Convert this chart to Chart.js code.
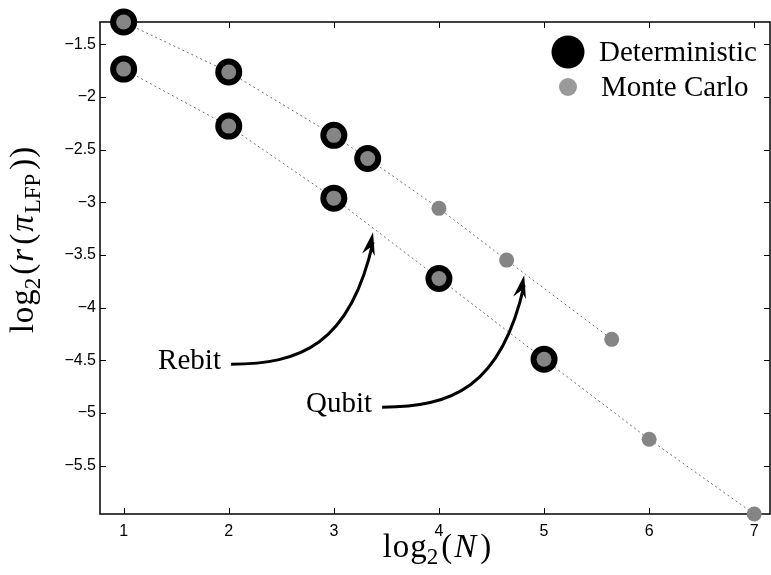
<!DOCTYPE html>
<html>
<head>
<meta charset="utf-8">
<script src="https://cdn.jsdelivr.net/npm/chart.js@4.4.0/dist/chart.umd.min.js"></script>
<style>
  body { margin: 0; background: #fff; }
  #wrap { width: 771px; height: 575px; position: relative; }
</style>
</head>
<body>
<div id="wrap"><canvas id="plot"></canvas></div>
<script>
// log2(N) against log2 of the LFP ratio, qubit and rebit families
const qubitN = [1, 2, 3, 3.322, 4, 4.644, 5.644];
const qubitR = [-1.288, -1.763, -2.364, -2.583, -3.057, -3.548, -4.30];
const qubitDet = [1, 1, 1, 1, 0, 0, 0];   // 1 = also computed deterministically

const rebitN = [1, 2, 3, 4, 5, 6, 7];
const rebitR = [-1.735, -2.276, -2.96, -3.722, -4.489, -5.248, -5.958];
const rebitDet = [1, 1, 1, 1, 1, 0, 0];

const xTicks = [1, 2, 3, 4, 5, 6, 7];
const yTicks = [-5.5, -5, -4.5, -4, -3.5, -3, -2.5, -2, -1.5];
const legendLabels = ['Deterministic', 'Monte Carlo'];

// curved arrow callouts in data units: label, start, ctrl1, ctrl2, tip
const callouts = [
  ['Rebit', [2.021, -4.536], [2.678, -4.536], [3.154, -4.355], [3.373, -3.283]],
  ['Qubit', [3.459, -4.944], [4.116, -4.944], [4.592, -4.763], [4.811, -3.691]]
];

const GRAY = '#858585';
const SERIF = '"Liberation Serif", "Times New Roman", serif';

function pts(xs, ys, mask) {
  const out = [];
  xs.forEach((x, i) => { if (!mask || mask[i]) out.push({ x: x, y: ys[i] }); });
  return out;
}

const allR = qubitR.concat(rebitR);

// draws text pieces (sub/superscripts, italics) one after another
function richText(ctx, parts, x, y, align) {
  let total = 0;
  parts.forEach(p => {
    ctx.font = (p.it ? 'italic ' : '') + p.size + 'px ' + SERIF;
    p.w = ctx.measureText(p.t).width + (p.gap || 0);
    total += p.w;
  });
  let cx = align === 'center' ? x - total / 2 : x;
  parts.forEach(p => {
    ctx.font = (p.it ? 'italic ' : '') + p.size + 'px ' + SERIF;
    ctx.fillText(p.t, cx, y + (p.dy || 0));
    cx += p.w;
  });
}

// box round the plot with inward tick marks
const framePlugin = {
  id: 'frame',
  beforeDatasetsDraw(chart) {
    const { ctx, chartArea: a, scales } = chart;
    ctx.save();
    ctx.strokeStyle = '#000';
    ctx.lineWidth = 1.5;
    ctx.strokeRect(a.left, a.top, a.right - a.left, a.bottom - a.top);
    ctx.lineWidth = 1;
    ctx.beginPath();
    xTicks.forEach(v => {
      const px = Math.round(scales.x.getPixelForValue(v)) + 0.5;
      ctx.moveTo(px, a.bottom); ctx.lineTo(px, a.bottom - 6);
      ctx.moveTo(px, a.top); ctx.lineTo(px, a.top + 6);
    });
    yTicks.forEach(v => {
      const py = Math.round(scales.y.getPixelForValue(v)) + 0.5;
      ctx.moveTo(a.left, py); ctx.lineTo(a.left + 6, py);
      ctx.moveTo(a.right, py); ctx.lineTo(a.right - 6, py);
    });
    ctx.stroke();
    ctx.restore();
  }
};

// legend, arrow callouts and the axis titles
const overlayPlugin = {
  id: 'overlay',
  afterDraw(chart) {
    const { ctx, chartArea: a, scales } = chart;
    const sx = v => scales.x.getPixelForValue(v);
    const sy = v => scales.y.getPixelForValue(v);
    ctx.save();
    ctx.fillStyle = '#000';
    ctx.textBaseline = 'alphabetic';

    // legend
    const lx = a.right - 202;
    ctx.beginPath(); ctx.arc(lx, a.top + 30, 16.5, 0, Math.PI * 2); ctx.fill();
    ctx.fillStyle = '#9a9a9a';
    ctx.beginPath(); ctx.arc(lx, a.top + 65, 9, 0, Math.PI * 2); ctx.fill();
    ctx.fillStyle = '#000';
    ctx.font = '29px ' + SERIF;
    ctx.textAlign = 'left';
    ctx.fillText(legendLabels[0], a.right - 171, a.top + 39);
    ctx.fillText(legendLabels[1], a.right - 169, a.top + 74);

    // arrows
    callouts.forEach(c => {
      const p = c.slice(1).map(q => [sx(q[0]), sy(q[1])]);
      ctx.strokeStyle = '#000';
      ctx.lineWidth = 3;
      ctx.beginPath();
      ctx.moveTo(p[0][0], p[0][1]);
      ctx.bezierCurveTo(p[1][0], p[1][1], p[2][0], p[2][1], p[3][0], p[3][1] + 10);
      ctx.stroke();
      const dx = p[3][0] - p[2][0], dy = p[3][1] - p[2][1];
      const len = Math.hypot(dx, dy), ux = dx / len, uy = dy / len;
      const nx = -uy, ny = ux;
      const tx = p[3][0], ty = p[3][1];
      ctx.beginPath();
      ctx.moveTo(tx, ty);
      ctx.lineTo(tx - ux * 23 + nx * 6.5, ty - uy * 23 + ny * 6.5);
      ctx.lineTo(tx - ux * 16, ty - uy * 16);
      ctx.lineTo(tx - ux * 23 - nx * 6.5, ty - uy * 23 - ny * 6.5);
      ctx.closePath();
      ctx.fill();
      ctx.font = '29px ' + SERIF;
      ctx.textAlign = 'right';
      ctx.fillText(c[0], p[0][0] - 10, p[0][1] + 5);
    });

    // x title: log2(N)
    ctx.textAlign = 'left';
    richText(ctx, [
      { t: 'l', size: 33, gap: 1 },
      { t: 'o', size: 33, gap: 1 },
      { t: 'g', size: 33 },
      { t: '2', size: 23, dy: 7, gap: 3 },
      { t: '(', size: 33, gap: 2 },
      { t: 'N', size: 33, it: true, gap: 4 },
      { t: ')', size: 33 }
    ], (a.left + a.right) / 2 + 2, 557, 'center');

    // y title: log2(r(pi_LFP)), rotated
    ctx.translate(33, a.top + 218);
    ctx.rotate(-Math.PI / 2);
    richText(ctx, [
      { t: 'l', size: 33, gap: 1 },
      { t: 'o', size: 33, gap: 1 },
      { t: 'g', size: 33 },
      { t: '2', size: 23, dy: 7, gap: 3 },
      { t: '(', size: 33, gap: 2 },
      { t: 'r', size: 33, it: true, gap: 4 },
      { t: '(', size: 33, gap: 2 },
      { t: '\u03c0', size: 33, it: true, gap: 2 },
      { t: 'LFP', size: 23, dy: 7, gap: 4 },
      { t: ')', size: 33, gap: 1 },
      { t: ')', size: 33 }
    ], 0, 0, 'center');
    ctx.restore();
  }
};

const tickFont = { family: '"Liberation Sans", Arial, sans-serif', size: 16 };

new Chart('plot', {
  type: 'scatter',
  data: {
    datasets: [
      {
        label: legendLabels[1],
        data: pts(qubitN, qubitR).concat(pts(rebitN, rebitR)),
        pointRadius: 7.5, pointBackgroundColor: GRAY, pointBorderWidth: 0,
        clip: false, order: 0
      },
      {
        label: legendLabels[0],
        data: pts(qubitN, qubitR, qubitDet).concat(pts(rebitN, rebitR, rebitDet)),
        pointRadius: 13.5, pointBackgroundColor: '#000', pointBorderWidth: 0,
        clip: false, order: 1
      },
      {
        label: 'Qubit',
        data: pts(qubitN, qubitR),
        showLine: true, pointRadius: 0, borderColor: '#6e6e6e', borderWidth: 1,
        borderDash: [2, 3], clip: false, order: 2
      },
      {
        label: 'Rebit',
        data: pts(rebitN, rebitR),
        showLine: true, pointRadius: 0, borderColor: '#6e6e6e', borderWidth: 1,
        borderDash: [2, 3], clip: false, order: 2
      }
    ]
  },
  options: {
    responsive: true,
    maintainAspectRatio: false,
    animation: false,
    layout: { autoPadding: false, padding: { top: 22, right: 1, left: 0, bottom: 0 } },
    plugins: { legend: { display: false }, tooltip: { enabled: false } },
    scales: {
      x: {
        type: 'linear', min: 0.775, max: 7.15,
        grid: { display: false, drawTicks: false },
        border: { display: false },
        afterBuildTicks: s => { s.ticks = xTicks.map(v => ({ value: v })); },
        afterFit: s => { s.height = 61; s.paddingLeft = 0; s.paddingRight = 0; },
        ticks: { padding: 8, color: '#000', font: tickFont, maxRotation: 0 }
      },
      y: {
        type: 'linear', min: Math.min(...allR), max: Math.max(...allR),
        grid: { display: false, drawTicks: false },
        border: { display: false },
        afterBuildTicks: s => { s.ticks = yTicks.map(v => ({ value: v })); },
        afterFit: s => { s.width = 100; s.paddingTop = 0; s.paddingBottom = 0; },
        ticks: {
          padding: 4, color: '#000', font: tickFont,
          callback: v => (v < 0 ? '\u2212' : '') + Math.abs(v)
        }
      }
    }
  },
  plugins: [framePlugin, overlayPlugin]
});
</script>
</body>
</html>
